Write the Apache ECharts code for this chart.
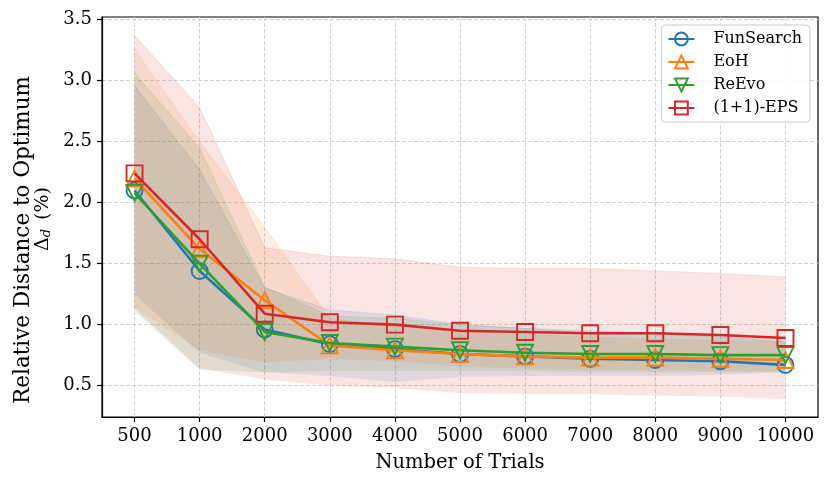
<!DOCTYPE html>
<html><head><meta charset="utf-8">
<script src="https://cdn.jsdelivr.net/npm/echarts@6/dist/echarts.min.js"></script>
<style>html,body{margin:0;padding:0;background:#fff}#c{width:830px;height:484px}</style>
</head><body><div id="c"></div>
<script>
const trials = ['500','1000','2000','3000','4000','5000','6000','7000','8000','9000','10000'];
const yTicks = [0.5, 1.0, 1.5, 2.0, 2.5, 3.0, 3.5];
const seriesNames = ['FunSearch', 'EoH', 'ReEvo', '(1+1)-EPS'];

const funsearchMean  = [2.10, 1.44, 0.96, 0.84, 0.80, 0.76, 0.74, 0.72, 0.71, 0.70, 0.67];
const funsearchUpper = [2.96, 2.27, 1.30, 1.12, 1.08, 1.00, 0.97, 0.95, 0.93, 0.90, 0.86];
const funsearchLower = [1.25, 0.77, 0.61, 0.58, 0.53, 0.57, 0.58, 0.58, 0.58, 0.59, 0.61];

const eohMean  = [2.20, 1.62, 1.20, 0.83, 0.79, 0.76, 0.74, 0.73, 0.73, 0.72, 0.71];
const eohUpper = [3.26, 2.50, 1.80, 1.05, 0.98, 0.95, 0.92, 0.90, 0.88, 0.87, 0.86];
const eohLower = [1.14, 0.79, 0.69, 0.72, 0.70, 0.66, 0.64, 0.63, 0.63, 0.62, 0.62];

const reevoMean  = [2.08, 1.50, 0.94, 0.85, 0.82, 0.79, 0.77, 0.76, 0.76, 0.75, 0.75];
const reevoUpper = [3.06, 2.45, 1.31, 1.07, 1.05, 1.00, 0.97, 0.93, 0.92, 0.90, 0.90];
const reevoLower = [1.11, 0.63, 0.61, 0.62, 0.62, 0.62, 0.62, 0.61, 0.61, 0.61, 0.61];

const epsMean  = [2.24, 1.70, 1.09, 1.02, 1.00, 0.95, 0.94, 0.93, 0.93, 0.915, 0.89];
const epsUpper = [3.37, 2.78, 1.63, 1.56, 1.54, 1.47, 1.46, 1.46, 1.44, 1.42, 1.39];
const epsLower = [1.13, 0.64, 0.55, 0.50, 0.48, 0.44, 0.43, 0.43, 0.42, 0.41, 0.39];

const colors = ['#1f77b4', '#ff7f0e', '#2ca02c', '#d62728'];
const symbols = ['circle', 'triangle', 'triangle', 'rect'];
const rotations = [0, 0, 180, 0];
const means = [funsearchMean, eohMean, reevoMean, epsMean];
const uppers = [funsearchUpper, eohUpper, reevoUpper, epsUpper];
const lowers = [funsearchLower, eohLower, reevoLower, epsLower];

const FONT = 'DejaVu Serif';
const series = [];
for (let i = 0; i < 4; i++) {
  series.push({
    type: 'line', name: 'band_lo_' + i, stack: 'band' + i, data: lowers[i],
    symbol: 'none', lineStyle: { opacity: 0 }, silent: true, z: 1
  });
  series.push({
    type: 'line', name: 'band_hi_' + i, stack: 'band' + i,
    data: uppers[i].map((u, k) => +(u - lowers[i][k]).toFixed(4)),
    symbol: 'none', lineStyle: { color: colors[i], width: 1, opacity: 0.12 },
    areaStyle: { color: colors[i], opacity: 0.12 }, silent: true, z: 1
  });
}
for (let i = 0; i < 4; i++) {
  series.push({
    type: 'line', name: seriesNames[i], data: means[i], z: 3 + i,
    symbol: symbols[i], symbolSize: 16, symbolRotate: rotations[i], showAllSymbol: true,
    lineStyle: { color: colors[i], width: 2.6 },
    itemStyle: { color: 'rgba(255,255,255,0)', borderColor: colors[i], borderWidth: 1.9 },
    emphasis: { disabled: true }
  });
}

const chart = echarts.init(document.getElementById('c'));
chart.setOption({
  animation: false,
  backgroundColor: '#fff',
  grid: { left: 102, right: 12, top: 17, bottom: 67, show: true, borderColor: '#000', borderWidth: 1.2, backgroundColor: 'transparent' },
  legend: {
    data: seriesNames, orient: 'vertical', right: 20, top: 25,
    backgroundColor: 'rgba(255,255,255,0.85)', borderColor: '#cccccc', borderWidth: 1, borderRadius: 4,
    padding: [6, 8, 6, 6], itemWidth: 26, itemHeight: 16, itemGap: 7,
    textStyle: { fontFamily: FONT, fontSize: 16, color: '#000', padding: [0, 0, 0, 14] }
  },
  xAxis: {
    type: 'category', data: trials, boundaryGap: true,
    name: 'Number of Trials', nameLocation: 'middle', nameGap: 36,
    nameTextStyle: { fontFamily: FONT, fontSize: 19.5, color: '#000' },
    axisLine: { show: true, lineStyle: { color: '#000', width: 1.2 } },
    axisTick: { show: true, alignWithLabel: true, length: 5, lineStyle: { color: '#000', width: 1.2 } },
    axisLabel: { fontFamily: FONT, fontSize: 18, color: '#000', margin: 10, interval: 0 },
    splitLine: { show: true, alignWithLabel: true, lineStyle: { color: '#d4d4d4', type: [4, 2], width: 1 } }
  },
  yAxis: {
    type: 'value', min: 0.243, max: 3.522,
    axisLine: { show: true, lineStyle: { color: '#000', width: 1.2 } },
    axisTick: { show: true, length: 5, customValues: yTicks, lineStyle: { color: '#000', width: 1.2 } },
    axisLabel: { fontFamily: FONT, fontSize: 18, color: '#000', margin: 10, customValues: yTicks,
      formatter: v => v.toFixed(1) },
    splitLine: { show: true, lineStyle: { color: '#d4d4d4', type: [4, 2], width: 1 } }
  },
  graphic: [
    { type: 'text', x: 23, y: 240, rotation: Math.PI / 2,
      style: { text: 'Relative Distance to Optimum', fontFamily: FONT, fontSize: 21.5, fill: '#000', align: 'center', verticalAlign: 'middle' } },
    { type: 'text', x: 43, y: 219, rotation: Math.PI / 2,
      style: { text: '{a|Δ}{s|d}{g| }{a|(%)}', align: 'center', verticalAlign: 'middle',
        rich: { a: { fontFamily: FONT, fontSize: 19, fill: '#000', color: '#000' },
                g: { fontFamily: FONT, fontSize: 19, width: 9 },
                s: { fontFamily: FONT, fontSize: 13, fontStyle: 'italic', color: '#000', fill: '#000', padding: [8, 0, 0, 0] } } } }
  ],
  series: series
});
</script>
</body></html>
